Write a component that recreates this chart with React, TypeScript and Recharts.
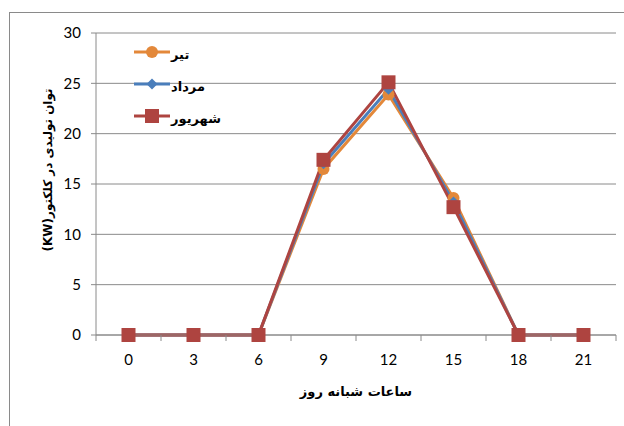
import { LineChart, Line, XAxis, YAxis, CartesianGrid, Legend } from 'recharts';

const hours = ['0', '3', '6', '9', '12', '15', '18', '21'];
const tir = [0, 0, 0, 16.5, 23.9, 13.6, 0, 0];
const mordad = [0, 0, 0, 17, 24.4, 13.2, 0, 0];
const shahrivar = [0, 0, 0, 17.4, 25.1, 12.7, 0, 0];
const yTicks = [0, 5, 10, 15, 20, 25, 30];

const data = hours.map((h, i) => ({ hour: h, tir: tir[i], mordad: mordad[i], shahrivar: shahrivar[i] }));

const series = [
  { key: 'tir', name: 'تیر', color: '#E3883A', shape: 'circle' },
  { key: 'mordad', name: 'مرداد', color: '#4A7EBB', shape: 'diamond' },
  { key: 'shahrivar', name: 'شهریور', color: '#AE4440', shape: 'square' },
];

const numFont = 'Lato, "DejaVu Sans", sans-serif';
const faFont = '"DejaVu Sans", sans-serif';
const axisGray = '#8a8a8a';

function Marker({ cx, cy, shape, color }: { cx: number; cy: number; shape: string; color: string }) {
  if (shape === 'circle') return <circle cx={cx} cy={cy} r={6} fill={color} />;
  if (shape === 'diamond')
    return <path d={`M${cx},${cy - 5.5}L${cx + 5.5},${cy}L${cx},${cy + 5.5}L${cx - 5.5},${cy}Z`} fill={color} />;
  return <rect x={cx - 7} y={cy - 7} width={14} height={14} fill={color} />;
}

function dotFor(shape: string, color: string) {
  return (props: any) => <Marker key={props.index} cx={props.cx} cy={props.cy} shape={shape} color={color} />;
}

// category labels sit mid-band, tick marks go on the band edges
function HourTick(props: any) {
  const { x, y, payload, index, visibleTicksCount, width } = props;
  const half = width / visibleTicksCount / 2;
  return (
    <g>
      <line x1={x - half} x2={x - half} y1={y} y2={y + 6} stroke={axisGray} />
      {index === visibleTicksCount - 1 && <line x1={x + half} x2={x + half} y1={y} y2={y + 6} stroke={axisGray} />}
      <text x={x} y={y + 30} textAnchor="middle" fontFamily={numFont} fontSize={15} fill="#000">
        {payload.value}
      </text>
    </g>
  );
}

function SeriesLegend() {
  return (
    <div style={{ display: 'flex', flexDirection: 'column', gap: 14 }}>
      {series.map((s) => (
        <div key={s.key} style={{ display: 'flex', alignItems: 'center', height: 18 }}>
          <svg width={38} height={18}>
            <line x1={1} x2={37} y1={9} y2={9} stroke={s.color} strokeWidth={3} />
            <Marker cx={19} cy={9} shape={s.shape} color={s.color} />
          </svg>
          <span style={{ fontFamily: faFont, fontSize: 13, fontWeight: 'bold', direction: 'rtl', marginTop: 4 }}>{s.name}</span>
        </div>
      ))}
    </div>
  );
}

export default function App() {
  return (
    <div style={{ position: 'absolute', left: 0, top: 0, width: 624, height: 426, overflow: 'hidden', background: '#fff' }}>
      <div style={{ position: 'absolute', left: 9, top: 12, width: 700, height: 500, borderTop: `1px solid ${axisGray}`, borderLeft: `1px solid ${axisGray}` }} />
      <LineChart width={624} height={426} data={data} margin={{ top: 33, right: 8, bottom: 0, left: 0 }} style={{ position: 'absolute', left: 0, top: 0 }}>
        <CartesianGrid vertical={false} stroke={axisGray} strokeWidth={1} />
        <XAxis
          dataKey="hour"
          scale="band"
          height={91}
          tickLine={false}
          tickSize={0}
          tickMargin={0}
          stroke={axisGray}
          tick={<HourTick />}
          interval={0}
          label={{
            value: 'ساعات شبانه روز',
            position: 'insideTop',
            offset: 52,
            style: { fontFamily: faFont, fontSize: 13, fontWeight: 'bold', fill: '#000', direction: 'rtl' },
          }}
        />
        <YAxis
          width={96}
          domain={[0, 30]}
          ticks={yTicks}
          interval={0}
          stroke={axisGray}
          tickSize={5}
          tickMargin={10}
          tick={{ fontFamily: numFont, fontSize: 15, fill: '#000' }}
          label={{
            content: ({ viewBox }: any) => (
              <text
                x={viewBox.x + 48}
                y={viewBox.y + viewBox.height / 2 - 14}
                transform={`rotate(-90 ${viewBox.x + 48} ${viewBox.y + viewBox.height / 2 - 14})`}
                textAnchor="middle"
                dominantBaseline="central"
                fontFamily={faFont}
                fontSize={12}
                fontWeight="bold"
                fill="#000"
                style={{ direction: 'rtl' }}
              >
                {'توان تولیدی در کلکتور\u200E(KW)\u200E'}
              </text>
            ),
          }}
        />
        <Legend
          content={<SeriesLegend />}
          layout="horizontal"
          align="center"
          verticalAlign="middle"
          wrapperStyle={{ left: 133, top: 43, width: 'auto', bottom: 'auto' }}
        />
        {series.map((s) => (
          <Line
            key={s.key}
            dataKey={s.key}
            name={s.name}
            stroke={s.color}
            strokeWidth={3}
            dot={dotFor(s.shape, s.color)}
            activeDot={false}
            isAnimationActive={false}
          />
        ))}
      </LineChart>
    </div>
  );
}
